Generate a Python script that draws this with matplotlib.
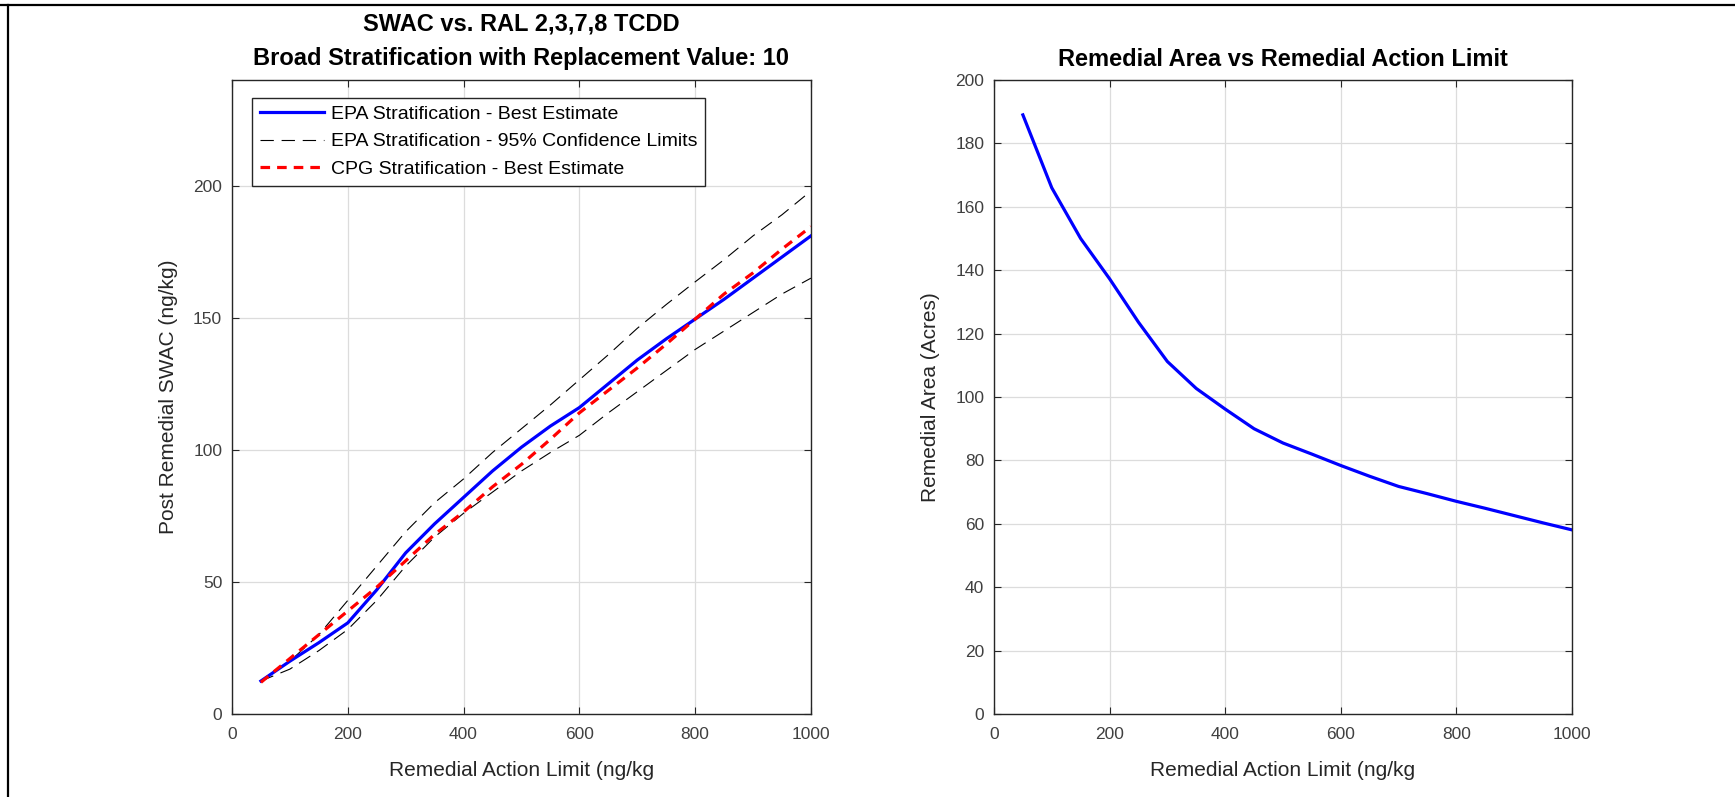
import matplotlib.pyplot as plt
from matplotlib.lines import Line2D

plt.rcParams['font.family'] = ['Liberation Sans', 'DejaVu Sans']

# data
ral = [50, 100, 150, 200, 250, 300, 350, 400, 450, 500,
       550, 600, 650, 700, 750, 800, 850, 900, 950, 1000]
epa_best = [12.5, 20, 27, 34.5, 47, 61, 72, 82, 92, 101,
            109, 116, 125, 134, 142, 149.5, 157, 165, 173, 181]
epa_upper = [12.5, 20, 30, 43, 56, 69, 80, 89, 99, 108,
             117, 126.5, 136, 146, 155, 163.6, 172, 181, 189, 198]
epa_lower = [12.5, 17, 24, 32, 43, 56, 67, 76, 84, 92,
             99, 105.5, 114, 122, 130, 138, 145, 152, 159, 165]
cpg_best = [12, 21, 30, 39, 48, 58, 68, 76.5, 86, 94.5,
            104, 114, 122.5, 131, 140, 149.5, 159, 167, 176, 184.5]
area = [189, 166, 150, 137.3, 123.6, 111.2, 102.7, 96.2, 90, 85.5,
        82, 78.4, 75, 71.8, 69.5, 67.1, 64.9, 62.6, 60.3, 58.1]

fig = plt.figure(figsize=(17.35, 7.97), dpi=100)
ax1 = fig.add_axes([0.1337, 0.1041, 0.3337, 0.7955])
ax2 = fig.add_axes([0.5729, 0.1041, 0.3331, 0.7955])

# figure frame (top and left edges only)
fig.add_artist(Line2D([0, 1], [1 - 5 / 797, 1 - 5 / 797], color='black', lw=1.6))
fig.add_artist(Line2D([8 / 1735, 8 / 1735], [0, 1 - 5 / 797], color='black', lw=1.6))

ax1.plot(ral, epa_best, color='#0000ff', lw=2.3, label='EPA Stratification - Best Estimate', zorder=3)
ax1.plot(ral, epa_upper, color='black', lw=0.8, dashes=(12, 7), label='EPA Stratification - 95% Confidence Limits', zorder=2)
ax1.plot(ral, epa_lower, color='black', lw=0.8, dashes=(12, 7), zorder=2)
ax1.plot(ral, cpg_best, color='#ff0000', lw=2.3, dashes=(3, 2.2), label='CPG Stratification - Best Estimate', zorder=4)

ax1.set_xlim(0, 1000)
ax1.set_ylim(0, 240)
ax1.set_yticks([0, 50, 100, 150, 200])
ax1.set_xlabel('Remedial Action Limit (ng/kg', fontsize=15, color='#262626', labelpad=14)
ax1.set_ylabel('Post Remedial SWAC (ng/kg)', fontsize=15, color='#262626', labelpad=11)
ax1.set_title('SWAC vs. RAL 2,3,7,8 TCDD\nBroad Stratification with Replacement Value: 10',
              fontsize=17, fontweight='bold', linespacing=1.6, pad=11)
leg = ax1.legend(loc='upper left', bbox_to_anchor=(0.035, 0.972), fontsize=14,
                 fancybox=False, framealpha=1, edgecolor='#262626',
                 handlelength=3.3, handletextpad=0.35, borderpad=0.4, labelspacing=0.5,
                 borderaxespad=0)
leg.get_frame().set_linewidth(1.0)

ax2.plot(ral, area, color='#0000ff', lw=2.3)
ax2.set_xlim(0, 1000)
ax2.set_ylim(0, 200)
ax2.set_yticks(range(0, 201, 20))
ax2.set_xlabel('Remedial Action Limit (ng/kg', fontsize=15, color='#262626', labelpad=14)
ax2.set_ylabel('Remedial Area (Acres)', fontsize=15, color='#262626', labelpad=11)
ax2.set_title('Remedial Area vs Remedial Action Limit', fontsize=17, fontweight='bold', pad=10)

for ax in (ax1, ax2):
    ax.set_xticks(range(0, 1001, 200))
    ax.grid(True, color='#dcdcdc', lw=0.9)
    ax.set_axisbelow(True)
    ax.tick_params(direction='in', top=True, right=True, labelsize=12.5,
                   colors='#262626', labelcolor='#404040', length=5, pad=7)
    ax.tick_params(axis='x', pad=9)
    for s in ax.spines.values():
        s.set_color('#262626')
        s.set_linewidth(1.0)

fig.savefig('out.png', dpi=100)
